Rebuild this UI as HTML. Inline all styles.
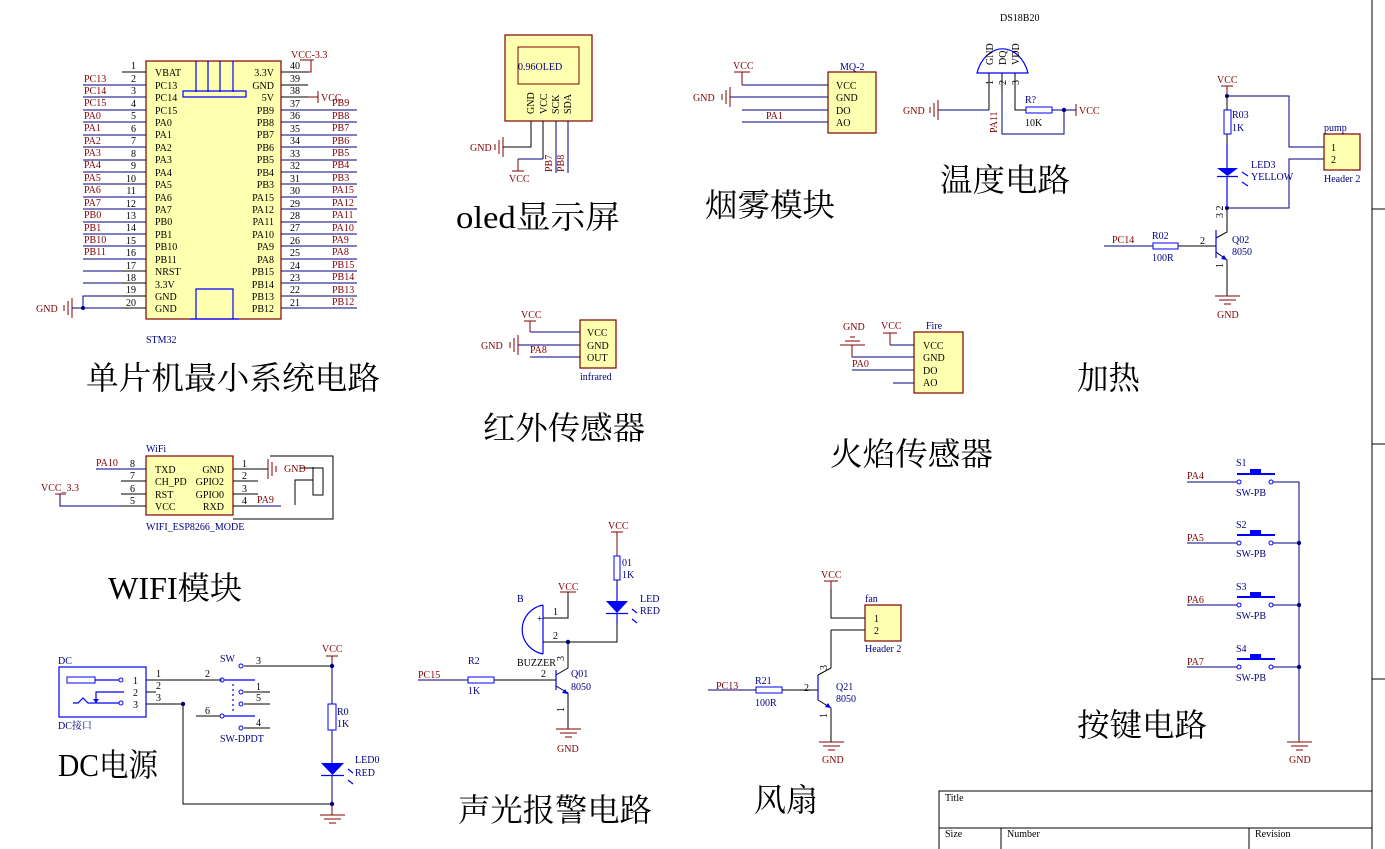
<!DOCTYPE html>
<html><head><meta charset="utf-8"><style>
html,body{margin:0;padding:0;background:#fff;width:1385px;height:849px;overflow:hidden}
svg{display:block}
text{font-family:"Liberation Serif","Noto Serif CJK SC",serif;font-size:10px}
.r{fill:#800000}.n{fill:#000080}.k{fill:#000}.b{fill:#0000ff}
.big{font-family:"Liberation Serif","Noto Serif CJK SC",serif;font-size:32px;fill:#000}
.w{stroke:#000080;stroke-width:1;fill:none}
.p{stroke:#000;stroke-width:1;fill:none}
.rd{stroke:#800000;stroke-width:1;fill:none}
.bl{stroke:#0000ff;stroke-width:1.2;fill:none}
.box{fill:#ffffb0;stroke:#800000;stroke-width:1.2}
</style></head><body>
<svg width="1385" height="849" viewBox="0 0 1385 849" xmlns="http://www.w3.org/2000/svg">

<!-- ================= STM32 ================= -->
<rect class="box" x="146" y="61" width="135" height="258"/>
<path class="bl" d="M196 61V92M208 61V92M220 61V92M233 61V92M183 91h63v6h-63z"/>
<path class="bl" d="M196 319V289h37v30M190 319h49"/>
<g class="k" text-anchor="end">
<text x="136" y="69">1</text><text x="136" y="82">2</text><text x="136" y="94">3</text><text x="136" y="107">4</text><text x="136" y="119">5</text><text x="136" y="132">6</text><text x="136" y="144">7</text><text x="136" y="157">8</text><text x="136" y="169">9</text><text x="136" y="182">10</text><text x="136" y="194">11</text><text x="136" y="207">12</text><text x="136" y="219">13</text><text x="136" y="231">14</text><text x="136" y="244">15</text><text x="136" y="256">16</text><text x="136" y="269">17</text><text x="136" y="281">18</text><text x="136" y="293">19</text><text x="136" y="306">20</text>
</g>
<g class="k">
<text x="290" y="69">40</text><text x="290" y="82">39</text><text x="290" y="94">38</text><text x="290" y="107">37</text><text x="290" y="119">36</text><text x="290" y="132">35</text><text x="290" y="144">34</text><text x="290" y="157">33</text><text x="290" y="169">32</text><text x="290" y="182">31</text><text x="290" y="194">30</text><text x="290" y="207">29</text><text x="290" y="219">28</text><text x="290" y="231">27</text><text x="290" y="244">26</text><text x="290" y="256">25</text><text x="290" y="269">24</text><text x="290" y="281">23</text><text x="290" y="293">22</text><text x="290" y="306">21</text>
</g>
<g class="k">
<text x="155" y="76">VBAT</text><text x="155" y="89">PC13</text><text x="155" y="101">PC14</text><text x="155" y="114">PC15</text><text x="155" y="126">PA0</text><text x="155" y="138">PA1</text><text x="155" y="151">PA2</text><text x="155" y="163">PA3</text><text x="155" y="176">PA4</text><text x="155" y="188">PA5</text><text x="155" y="201">PA6</text><text x="155" y="213">PA7</text><text x="155" y="225">PB0</text><text x="155" y="238">PB1</text><text x="155" y="250">PB10</text><text x="155" y="263">PB11</text><text x="155" y="275">NRST</text><text x="155" y="288">3.3V</text><text x="155" y="300">GND</text><text x="155" y="312">GND</text>
</g>
<g class="k" text-anchor="end">
<text x="274" y="76">3.3V</text><text x="274" y="89">GND</text><text x="274" y="101">5V</text><text x="274" y="114">PB9</text><text x="274" y="126">PB8</text><text x="274" y="138">PB7</text><text x="274" y="151">PB6</text><text x="274" y="163">PB5</text><text x="274" y="176">PB4</text><text x="274" y="188">PB3</text><text x="274" y="201">PA15</text><text x="274" y="213">PA12</text><text x="274" y="225">PA11</text><text x="274" y="238">PA10</text><text x="274" y="250">PA9</text><text x="274" y="263">PA8</text><text x="274" y="275">PB15</text><text x="274" y="288">PB14</text><text x="274" y="300">PB13</text><text x="274" y="312">PB12</text>
</g>
<path class="p" d="M122 72h24M122 271h24M122 283h24M122 296h24M122 308h24M281 72h27M281 85h27M281 97h27"/>
<path class="w" d="M83 85h63M83 97h63M83 110h63M83 122h63M83 135h63M83 147h63M83 160h63M83 172h63M83 184h63M83 197h63M83 209h63M83 222h63M83 234h63M83 246h63M83 259h63M83 271h39M83 283h39"/>
<path class="w" d="M281 110h76M281 122h76M281 135h76M281 147h76M281 160h76M281 172h76M281 184h76M281 197h76M281 209h76M281 222h76M281 234h76M281 246h76M281 259h76M281 271h76M281 283h76M281 296h76M281 308h76"/>
<g class="r">
<text x="84" y="82">PC13</text><text x="84" y="94">PC14</text><text x="84" y="106">PC15</text><text x="84" y="119">PA0</text><text x="84" y="131">PA1</text><text x="84" y="144">PA2</text><text x="84" y="156">PA3</text><text x="84" y="168">PA4</text><text x="84" y="181">PA5</text><text x="84" y="193">PA6</text><text x="84" y="206">PA7</text><text x="84" y="218">PB0</text><text x="84" y="231">PB1</text><text x="84" y="243">PB10</text><text x="84" y="255">PB11</text>
<text x="332" y="106">PB9</text><text x="332" y="119">PB8</text><text x="332" y="131">PB7</text><text x="332" y="144">PB6</text><text x="332" y="156">PB5</text><text x="332" y="168">PB4</text><text x="332" y="181">PB3</text><text x="332" y="193">PA15</text><text x="332" y="206">PA12</text><text x="332" y="218">PA11</text><text x="332" y="231">PA10</text><text x="332" y="243">PA9</text><text x="332" y="255">PA8</text><text x="332" y="268">PB15</text><text x="332" y="280">PB14</text><text x="332" y="293">PB13</text><text x="332" y="305">PB12</text>
<text x="291" y="58">VCC-3.3</text><text x="321" y="101">VCC</text><text x="36" y="312">GND</text>
</g>
<path class="rd" d="M308 72h3V60M300 60h14M308 97h10M318 91v12M72 298v20M68 301v14M64 305v6"/>
<path class="w" d="M72 308h50M83 308V296h39"/>
<circle cx="83" cy="308" r="2" fill="#000080"/>
<text x="146" y="343" class="n">STM32</text>
<text class="big" x="86" y="389" textLength="294" lengthAdjust="spacingAndGlyphs">单片机最小系统电路</text>

<!-- ================= OLED ================= -->
<rect class="box" x="505" y="35" width="87" height="86"/>
<rect x="518" y="47" width="61" height="37" fill="none" stroke="#800000" stroke-width="1"/>
<text x="518" y="70" class="n">0.96OLED</text>
<g class="k" font-size="11">
<text transform="translate(534,114) rotate(-90)">GND</text>
<text transform="translate(547,114) rotate(-90)">VCC</text>
<text transform="translate(559,114) rotate(-90)">SCK</text>
<text transform="translate(571,114) rotate(-90)">SDA</text>
</g>
<path class="p" d="M531 121v26h-26M543 121v38"/>
<path class="w" d="M543 159h-25M556 121v52M568 121v52"/>
<path class="rd" d="M518 159v12M512 171h12M503 137v20M499 140v14M495 144v6"/>
<path class="p" d="M503 147h2"/>
<text x="470" y="151" class="r">GND</text><text x="509" y="182" class="r">VCC</text>
<text class="r" transform="translate(552,172) rotate(-90)">PB7</text>
<text class="r" transform="translate(564,172) rotate(-90)">PB8</text>
<text class="big" x="456" y="228" textLength="164" lengthAdjust="spacingAndGlyphs">oled显示屏</text>

<!-- ================= MQ-2 ================= -->
<rect class="box" x="828" y="72" width="48" height="61"/>
<text x="840" y="70" class="n">MQ-2</text>
<g class="k"><text x="836" y="89">VCC</text><text x="836" y="101">GND</text><text x="836" y="114">DO</text><text x="836" y="126">AO</text></g>
<path class="w" d="M742 85h86M730 97h98M742 110h86M742 122h86"/>
<path class="rd" d="M742 85V72M734 72h16M730 87v20M726 90v14M722 94v6"/>
<text x="733" y="69" class="r">VCC</text><text x="693" y="101" class="r">GND</text><text x="766" y="119" class="r">PA1</text>
<text class="big" x="705" y="216" textLength="130" lengthAdjust="spacingAndGlyphs">烟雾模块</text>

<!-- ================= DS18B20 ================= -->
<text x="1000" y="21" class="k" font-size="9">DS18B20</text>
<path class="bl" d="M977 73 A27 36 0 0 1 1028 73 Z"/>
<g class="k"><text transform="translate(993,65) rotate(-90)">GND</text><text transform="translate(1006,65) rotate(-90)">DQ</text><text transform="translate(1019,65) rotate(-90)">VDD</text>
<text transform="translate(993,85) rotate(-90)">1</text><text transform="translate(1006,85) rotate(-90)">2</text><text transform="translate(1019,85) rotate(-90)">3</text></g>
<path class="p" d="M989 73v37M1002 73v20M1015 73v37h11"/>
<path class="w" d="M938 110h51M1002 93v41h62v-24M1052 110h24"/>
<rect x="1026" y="107" width="26" height="6" fill="none" stroke="#0000ff"/>
<circle cx="1064" cy="110" r="2.2" fill="#000080"/>
<path class="rd" d="M1076 104v12M938 100v20M934 103v14M930 107v6"/>
<text x="1079" y="114" class="r">VCC</text><text x="903" y="114" class="r">GND</text>
<text class="r" transform="translate(997,133) rotate(-90)">PA11</text>
<text x="1025" y="103" class="n">R?</text><text x="1025" y="126" class="k">10K</text>
<text class="big" x="940" y="191" textLength="130" lengthAdjust="spacingAndGlyphs">温度电路</text>

<!-- ================= Pump / heating ================= -->
<text x="1217" y="83" class="r">VCC</text>
<path class="rd" d="M1221 86h12M1227 86v10"/>
<path class="w" d="M1227 96h62v51h35M1227 208h62v-49h35"/>
<circle cx="1227" cy="96" r="2" fill="#000080"/><circle cx="1227" cy="208" r="2" fill="#000080"/>
<rect x="1224" y="110" width="7" height="24" fill="none" stroke="#0000ff"/>
<path class="p" d="M1227 96v14M1227 134v10"/>
<path class="bl" d="M1227 144v24M1227 176v32"/>
<path d="M1217 168h21l-10.5 8z" fill="#0000ff"/><path class="bl" d="M1217 176.5h21" stroke-width="2"/>
<path class="bl" d="M1242 172l6 4M1242 182l6 4"/>
<text x="1232" y="118" class="n">R03</text><text x="1232" y="131" class="n">1K</text>
<text x="1251" y="168" class="n">LED3</text><text x="1251" y="180" class="n">YELLOW</text>
<rect class="box" x="1324" y="134" width="36" height="36"/>
<text x="1324" y="131" class="n" font-size="8">pump</text><text x="1331" y="151" class="k">1</text><text x="1331" y="163" class="k">2</text><text x="1324" y="182" class="n" font-size="9">Header 2</text>
<path class="p" d="M1227 208v24l-11 6M1216 252l11 8v35M1178 246h38"/>
<path class="bl" d="M1216 230v28" stroke-width="1.5"/><path d="M1227 260l-6-1 3-4z" fill="#0000ff"/>
<path class="w" d="M1104 246h49"/>
<rect x="1153" y="243" width="25" height="6" fill="none" stroke="#0000ff"/>
<path class="rd" d="M1227 295v1M1215 296h25M1219 300h17M1224 304h7"/>
<text x="1217" y="318" class="r" font-size="9">GND</text>
<text x="1112" y="243" class="r">PC14</text><text x="1152" y="239" class="n">R02</text><text x="1152" y="261" class="n">100R</text>
<text x="1200" y="244" class="k">2</text><text x="1232" y="243" class="n">Q02</text><text x="1232" y="255" class="n">8050</text>
<text class="k" transform="translate(1223,218) rotate(-90)">3 2</text><text class="k" transform="translate(1223,268) rotate(-90)">1</text>
<text class="big" x="1077" y="389" textLength="63" lengthAdjust="spacingAndGlyphs">加热</text>

<!-- ================= Infrared ================= -->
<rect class="box" x="580" y="320" width="36" height="48"/>
<g class="k"><text x="587" y="336">VCC</text><text x="587" y="349">GND</text><text x="587" y="361">OUT</text></g>
<path class="w" d="M530 332h50M518 345h62M530 357h50"/>
<path class="rd" d="M530 332v-11M524 321h12M518 335v20M514 338v14M510 342v6"/>
<text x="521" y="318" class="r">VCC</text><text x="481" y="349" class="r">GND</text><text x="530" y="353" class="r">PA8</text>
<text x="580" y="380" class="n" font-size="9">infrared</text>
<text class="big" x="483" y="439" textLength="162" lengthAdjust="spacingAndGlyphs">红外传感器</text>

<!-- ================= Fire ================= -->
<rect class="box" x="914" y="332" width="49" height="61"/>
<text x="926" y="329" class="n">Fire</text>
<g class="k"><text x="923" y="349">VCC</text><text x="923" y="361">GND</text><text x="923" y="374">DO</text><text x="923" y="386">AO</text></g>
<path class="w" d="M890 345h24M852 357h62M852 370h62M893 383h21"/>
<path class="rd" d="M890 345v-12M883 333h14M852 345v12M840 345h25M845 341h15M850 337h5"/>
<text x="881" y="329" class="r">VCC</text><text x="843" y="330" class="r">GND</text><text x="852" y="367" class="r">PA0</text>
<text class="big" x="830" y="465" textLength="163" lengthAdjust="spacingAndGlyphs">火焰传感器</text>

<!-- ================= WiFi ================= -->
<rect class="box" x="146" y="456" width="87" height="59"/>
<text x="146" y="452" class="n" font-size="9">WiFi</text>
<g class="k"><text x="155" y="473">TXD</text><text x="155" y="485">CH_PD</text><text x="155" y="498">RST</text><text x="155" y="510">VCC</text></g>
<g class="k" text-anchor="end"><text x="224" y="473">GND</text><text x="224" y="485">GPIO2</text><text x="224" y="498">GPIO0</text><text x="224" y="510">RXD</text></g>
<g class="k"><text x="130" y="467">8</text><text x="130" y="479">7</text><text x="130" y="492">6</text><text x="130" y="504">5</text><text x="242" y="467">1</text><text x="242" y="479">2</text><text x="242" y="492">3</text><text x="242" y="504">4</text></g>
<path class="p" d="M121 481h25M121 494h25M121 506h25M233 469h35M233 481h25M233 494h25M233 506h25"/>
<path class="w" d="M96 469h50M60 494v12h61M258 506h23"/>
<path class="rd" d="M55 494h11M268 459v20M272 462v14M276 466v6"/>
<path class="p" d="M270 456h63v63H233M295 505V480h18v-13M313 480V495h10V468h-23"/>
<text x="96" y="466" class="r">PA10</text><text x="41" y="491" class="r">VCC_3.3</text><text x="257" y="503" class="r">PA9</text><text x="284" y="472" class="r">GND</text>
<text x="146" y="530" class="n" font-size="9">WIFI_ESP8266_MODE</text>
<text class="big" x="108" y="599" textLength="134" lengthAdjust="spacingAndGlyphs">WIFI模块</text>

<!-- ================= DC ================= -->
<rect x="59" y="667" width="87" height="50" fill="none" stroke="#0000ff" stroke-width="1.2"/>
<text x="58" y="664" class="n" font-size="9">DC</text><text x="58" y="729" class="n" font-size="9">DC接口</text>
<rect x="67" y="677" width="28" height="6" fill="none" stroke="#0000ff"/>
<path class="bl" d="M95 680h24M96 703V692h28M73 703h5l5-5 5 5h31"/>
<path d="M93 699h6l-3 4z" fill="#0000ff"/>
<circle cx="121" cy="680" r="2" fill="none" stroke="#0000ff"/><circle cx="121" cy="703" r="2" fill="none" stroke="#0000ff"/>
<g class="k"><text x="133" y="684">1</text><text x="133" y="696">2</text><text x="133" y="708">3</text><text x="156" y="677">1</text><text x="156" y="689">2</text><text x="156" y="701">3</text></g>
<path class="p" d="M146 680h76M146 692h10M146 704h37M183 704v100h149M196 716h24"/>
<circle cx="183" cy="704" r="2.2" fill="#000080"/>
<text x="220" y="662" class="n" font-size="9">SW</text>
<path class="p" d="M244 666h88M244 692h26M244 704h26M244 728h26"/>
<path class="bl" d="M233 684v30" stroke-dasharray="2,3"/>
<path class="bl" d="M224 680h31M224 716h31"/>
<g fill="none" stroke="#0000ff"><circle cx="241" cy="666" r="2"/><circle cx="222" cy="680" r="2"/><circle cx="241" cy="692" r="2"/><circle cx="241" cy="704" r="2"/><circle cx="222" cy="716" r="2"/><circle cx="241" cy="728" r="2"/></g>
<g class="k"><text x="256" y="664">3</text><text x="205" y="677">2</text><text x="256" y="690">1</text><text x="256" y="701">5</text><text x="205" y="714">6</text><text x="256" y="726">4</text></g>
<text x="220" y="742" class="n" font-size="9">SW-DPDT</text>
<text x="322" y="652" class="r" font-size="9">VCC</text>
<path class="rd" d="M326 656h12M332 656v10"/>
<path class="w" d="M332 666v38M332 730v33M332 775v29"/>
<circle cx="332" cy="666" r="2.2" fill="#000080"/><circle cx="332" cy="804" r="2.2" fill="#000080"/>
<rect x="328" y="704" width="8" height="26" fill="none" stroke="#0000ff"/>
<path d="M321 763h23l-11.5 12z" fill="#0000ff"/><path class="bl" d="M321 775.5h23" stroke-width="2"/>
<path class="bl" d="M348 769l5 4M348 780l5 4"/>
<text x="337" y="715" class="n">R0</text><text x="337" y="727" class="n">1K</text>
<text x="355" y="763" class="n">LED0</text><text x="355" y="776" class="n">RED</text>
<path class="rd" d="M332 804v11M320 815h25M324 819h17M329 823h7"/>
<text class="big" x="58" y="776" textLength="100" lengthAdjust="spacingAndGlyphs">DC电源</text>

<!-- ================= Buzzer ================= -->
<text x="517" y="602" class="n">B</text>
<path class="bl" d="M543 605v49M543 605 A26 25 0 0 0 543 654"/>
<text x="537" y="622" class="k">+</text>
<path class="p" d="M543 618h25v-26M543 642h74V623"/>
<path class="rd" d="M560 592h16"/>
<circle cx="568" cy="642" r="2.2" fill="#000080"/>
<text x="558" y="590" class="r" font-size="9">VCC</text>
<g class="k"><text x="553" y="615">1</text><text x="553" y="639">2</text></g>
<text x="517" y="666" class="k" font-size="9">BUZZER</text>
<path class="p" d="M568 642v26l-12 7M556 686l12 7v35M494 680h62"/>
<path class="bl" d="M556 670v20" stroke-width="1.5"/><path d="M568 694l-6-1 3-4z" fill="#0000ff"/>
<path class="w" d="M418 680h50"/>
<rect x="468" y="677" width="26" height="6" fill="none" stroke="#0000ff"/>
<path class="rd" d="M568 728v1M556 729h25M560 733h17M565 737h7"/>
<text x="557" y="752" class="r" font-size="9">GND</text>
<text x="418" y="678" class="r" font-size="9">PC15</text><text x="468" y="664" class="n" font-size="9">R2</text><text x="468" y="694" class="n" font-size="9">1K</text>
<text x="541" y="677" class="k">2</text><text x="571" y="677" class="n" font-size="9">Q01</text><text x="571" y="690" class="n" font-size="9">8050</text>
<text class="k" transform="translate(564,661) rotate(-90)">3</text><text class="k" transform="translate(564,712) rotate(-90)">1</text>
<text x="608" y="529" class="r" font-size="9">VCC</text>
<path class="rd" d="M611 532h12M617 532v24"/>
<rect x="614" y="556" width="6" height="24" fill="none" stroke="#0000ff"/>
<path class="p" d="M617 580v5"/><path class="bl" d="M617 585v16M617 613v10"/>
<path d="M606 601h22l-11 12z" fill="#0000ff"/><path class="bl" d="M606 613.5h22" stroke-width="2"/>
<path class="bl" d="M632 609l5 4M632 619l5 4"/>
<text x="622" y="566" class="n" font-size="9">01</text><text x="622" y="578" class="n" font-size="9">1K</text>
<text x="640" y="602" class="n" font-size="9">LED</text><text x="640" y="614" class="n" font-size="9">RED</text>
<text class="big" x="458" y="821" textLength="194" lengthAdjust="spacingAndGlyphs">声光报警电路</text>

<!-- ================= Fan ================= -->
<text x="821" y="578" class="r" font-size="9">VCC</text>
<path class="rd" d="M824 581h14M831 581v8"/>
<path class="p" d="M831 589v29h34M831 630h34M831 630v38l-13 7M818 700l13 8v34M782 690h36"/>
<path class="bl" d="M818 675v25" stroke-width="1.5"/><path d="M831 708l-6-1 3-4z" fill="#0000ff"/>
<rect class="box" x="865" y="605" width="36" height="36"/>
<text x="865" y="602" class="n" font-size="8">fan</text><text x="874" y="622" class="k">1</text><text x="874" y="634" class="k">2</text><text x="865" y="652" class="n" font-size="9">Header 2</text>
<path class="w" d="M708 690h48"/>
<rect x="756" y="687" width="26" height="6" fill="none" stroke="#0000ff"/>
<path class="rd" d="M819 742h25M823 746h17M828 750h7"/>
<text x="822" y="763" class="r" font-size="9">GND</text>
<text x="716" y="689" class="r" font-size="9">PC13</text><text x="755" y="684" class="n" font-size="9">R21</text><text x="755" y="706" class="n" font-size="9">100R</text>
<text x="804" y="691" class="k">2</text><text x="836" y="690" class="n" font-size="9">Q21</text><text x="836" y="702" class="n" font-size="9">8050</text>
<text class="k" transform="translate(827,670) rotate(-90)">3</text><text class="k" transform="translate(827,718) rotate(-90)">1</text>
<text class="big" x="754" y="811" textLength="64" lengthAdjust="spacingAndGlyphs">风扇</text>

<!-- ================= Buttons ================= -->
<path class="w" d="M1187 482h50M1187 543h50M1187 605h50M1187 667h50M1273 482h26v258M1273 543h26M1273 605h26M1273 667h26"/>
<g fill="#000080"><circle cx="1299" cy="543" r="2.2"/><circle cx="1299" cy="605" r="2.2"/><circle cx="1299" cy="667" r="2.2"/></g>
<g fill="none" stroke="#0000ff"><circle cx="1239" cy="482" r="2"/><circle cx="1271" cy="482" r="2"/><circle cx="1239" cy="543" r="2"/><circle cx="1271" cy="543" r="2"/><circle cx="1239" cy="605" r="2"/><circle cx="1271" cy="605" r="2"/><circle cx="1239" cy="667" r="2"/><circle cx="1271" cy="667" r="2"/></g>
<g fill="#0000ff"><rect x="1237" y="473" width="38" height="2"/><rect x="1250" y="469" width="11" height="5"/><rect x="1237" y="534" width="38" height="2"/><rect x="1250" y="530" width="11" height="5"/><rect x="1237" y="596" width="38" height="2"/><rect x="1250" y="592" width="11" height="5"/><rect x="1237" y="658" width="38" height="2"/><rect x="1250" y="654" width="11" height="5"/></g>
<g class="r" font-size="9"><text x="1187" y="479">PA4</text><text x="1187" y="541">PA5</text><text x="1187" y="603">PA6</text><text x="1187" y="665">PA7</text></g>
<g class="n" font-size="9"><text x="1236" y="466">S1</text><text x="1236" y="496">SW-PB</text><text x="1236" y="528">S2</text><text x="1236" y="557">SW-PB</text><text x="1236" y="590">S3</text><text x="1236" y="619">SW-PB</text><text x="1236" y="652">S4</text><text x="1236" y="681">SW-PB</text></g>
<path class="rd" d="M1299 740v2M1287 742h25M1291 746h17M1296 750h7"/>
<text x="1289" y="763" class="r" font-size="9">GND</text>
<text class="big" x="1077" y="736" textLength="130" lengthAdjust="spacingAndGlyphs">按键电路</text>

<!-- ================= Frame / Title ================= -->
<path class="p" d="M1372 0v849M1372 209h13M1372 444h13M1372 679h13M939 849V791h433M939 828h433M1001 828v21M1249 828v21"/>
<g class="k" font-size="9"><text x="945" y="801">Title</text><text x="945" y="837">Size</text><text x="1007" y="837">Number</text><text x="1255" y="837">Revision</text></g>
</svg>
</body></html>
